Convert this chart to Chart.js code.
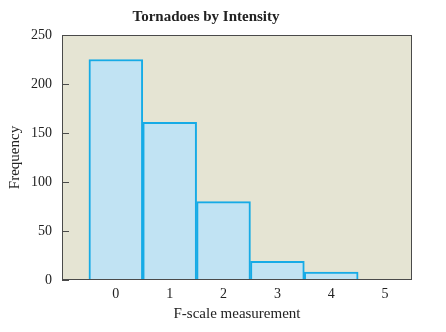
<!DOCTYPE html>
<html>
<head>
<meta charset="utf-8">
<script src="https://cdn.jsdelivr.net/npm/chart.js@4"></script>
<style>
  html, body { margin: 0; padding: 0; background: #fff; }
  #wrap { width: 446px; height: 332px; }
</style>
</head>
<body>
<div id="wrap"><canvas id="hist"></canvas></div>
<script>
const fScale = [0, 1, 2, 3, 4];
const frequency = [225, 161, 80, 19, 8];
const xTickValues = [0, 1, 2, 3, 4, 5];
const yTickValues = [0, 50, 100, 150, 200, 250];

const serif = "'Liberation Serif', 'DejaVu Serif', serif";

// beige plot background, dark frame and short inward ticks on y
const plotFrame = {
    id: 'plotFrame',
    beforeDatasetsDraw(chart) {
        const { ctx, chartArea: a } = chart;
        ctx.save();
        ctx.fillStyle = '#e5e4d3';
        ctx.fillRect(a.left, a.top, a.right - a.left, a.bottom - a.top);
        ctx.restore();
    },
    afterDatasetsDraw(chart) {
        const { ctx, chartArea: a } = chart;
        const y = chart.scales.y;
        ctx.save();
        ctx.strokeStyle = '#4a4a4a';
        ctx.lineWidth = 1;
        ctx.strokeRect(a.left + 0.5, a.top + 0.5, a.right - a.left - 1, a.bottom - a.top - 1);
        ctx.beginPath();
        y.ticks.forEach(t => {
            const py = Math.round(y.getPixelForValue(t.value)) + 0.5;
            ctx.moveTo(a.left, py);
            ctx.lineTo(a.left + 7, py);
        });
        ctx.stroke();
        ctx.restore();
    }
};

new Chart(document.getElementById('hist'), {
    type: 'bar',
    data: {
        datasets: [{
            data: fScale.map((v, i) => ({ x: v, y: frequency[i] })),
            backgroundColor: '#c1e3f3',
            borderColor: '#16abe6',
            borderWidth: 2,
            barPercentage: 1,
            categoryPercentage: 1
        }]
    },
    options: {
        responsive: true,
        maintainAspectRatio: false,
        animation: false,
        layout: { padding: { left: 0, right: 34, top: 0, bottom: 0 } },
        plugins: {
            legend: { display: false },
            tooltip: { enabled: false },
            title: {
                display: true,
                text: 'Tornadoes by Intensity',
                color: '#222',
                font: { family: serif, size: 15, weight: 'bold' },
                padding: { top: 8, bottom: 9 }
            }
        },
        scales: {
            x: {
                type: 'linear',
                offset: false,
                min: -1,
                max: 5.5,
                grid: { display: false, drawTicks: false },
                border: { display: false },
                afterBuildTicks(scale) {
                    scale.ticks = xTickValues.map(v => ({ value: v }));
                },
                afterFit(scale) { scale.height = 52; },
                ticks: {
                    color: '#222',
                    padding: 6,
                    font: { family: serif, size: 14 }
                },
                title: {
                    display: true,
                    text: 'F-scale measurement',
                    color: '#222',
                    padding: { top: 0, bottom: 9 },
                    font: { family: serif, size: 15 }
                }
            },
            y: {
                min: 0,
                max: 250,
                grid: { display: false },
                border: { display: false },
                afterBuildTicks(scale) {
                    scale.ticks = yTickValues.map(v => ({ value: v }));
                },
                afterFit(scale) { scale.width = 62; },
                ticks: {
                    color: '#222',
                    padding: 2,
                    font: { family: serif, size: 14 }
                },
                title: {
                    display: true,
                    text: 'Frequency',
                    color: '#222',
                    padding: { top: 6, bottom: 0 },
                    font: { family: serif, size: 15 }
                }
            }
        }
    },
    plugins: [plotFrame]
});
</script>
</body>
</html>
